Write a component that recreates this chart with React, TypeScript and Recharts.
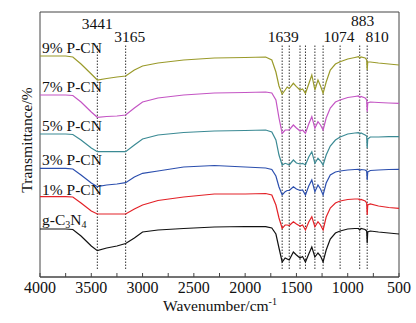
import { LineChart, Line, XAxis, YAxis, ReferenceLine, ReferenceArea } from 'recharts';

const FONT = '"Liberation Serif", "Times New Roman", serif';

// wavenumber grid (cm-1) the spectra are read at
const wavenumbers = [
  4000, 3750, 3680, 3600, 3500, 3441, 3350, 3250, 3165, 3080, 3000, 2850, 2600, 2300, 2000, 1800,
  1740, 1700, 1670, 1639, 1610, 1590, 1570, 1530, 1500, 1465, 1440, 1412, 1380, 1350, 1320, 1290,
  1265, 1240, 1210, 1170, 1120, 1074, 1000, 930, 895, 883, 870, 830, 815, 810, 805, 780, 700, 600, 500,
];

// transmittance (arbitrary units, curves stacked with offsets)
const gC3N4 = [
  48, 48, 47.5, 41, 31, 26.3, 29, 31, 33.5, 39, 45, 47, 48.5, 50, 50.5, 50.3,
  49, 43, 29, 15, 19, 18, 17, 25, 22, 19, 20.5, 15, 23, 30, 20, 24,
  21, 15, 27, 38, 44, 46, 48, 48.5, 48.5, 47, 48.5, 47.5, 46, 34, 45, 46, 45, 44, 43,
];
const pcn1 = [
  80.3, 80.3, 80, 74, 66, 63, 63, 63, 63, 68, 72, 76.5, 80, 83, 83, 83.5,
  82, 72, 59, 48.7, 52, 52, 51.5, 55.3, 53, 51, 52, 47, 55, 60.3, 50.3, 55.3,
  52, 47, 60, 69, 74, 76, 77.5, 78, 78, 77, 77.5, 76, 74, 62, 72, 73, 71, 69.5, 68.7,
];
const pcn3 = [
  108.7, 108.7, 108, 102, 94, 90.3, 92, 93, 94.3, 100, 103.7, 106, 110, 111.5, 110, 109,
  107.5, 101, 90, 82, 85.3, 86.5, 86.5, 90.3, 88, 86.5, 87, 82, 91, 97, 85.3, 92,
  88, 82, 94, 102, 105, 106, 107, 107.5, 107.7, 106.5, 107.5, 107, 106, 97, 105, 106.5, 107, 107.5, 107.7,
];
const pcn5 = [
  143, 143, 142.5, 137, 129, 125.3, 125.3, 125.5, 125.3, 132, 138, 142, 144.5, 146, 146.5, 147,
  145, 137, 122, 112, 113.7, 113, 112, 117, 114, 113, 113.7, 112, 120, 125.3, 113.7, 118.7,
  116, 112, 122, 131, 137, 140, 143, 144, 144.3, 143, 144, 142, 141, 129, 138, 140, 140, 140.3, 140.3,
];
const pcn7 = [
  182, 182, 181.5, 175, 165, 159.7, 160.5, 161, 162, 169, 175, 179, 182, 184, 184.5, 185,
  184, 177, 159, 143.5, 147, 147, 147, 152, 149, 146, 147, 143.7, 153, 160.3, 148.7, 155.3,
  152, 147, 159, 169, 175, 177, 179.5, 180.5, 181, 179.5, 180.5, 179, 177, 165.3, 174, 175, 174.5, 174, 173.7,
];
const pcn9 = [
  221, 221, 220, 213, 203, 197, 198.5, 200, 201, 207, 211, 214, 217, 219, 219.5, 220,
  217, 205, 191, 183, 187, 190, 188.5, 193.7, 190.3, 187, 188, 183.7, 193, 202, 187, 197,
  191, 183.7, 195, 207, 213, 215.3, 218, 219.5, 220.3, 219, 220, 219, 217, 207, 215, 215, 214, 213, 212,
];

const seriesKeys = ['g', 'p1', 'p3', 'p5', 'p7', 'p9'];
const seriesNames = ['g-C3N4', '1% P-CN', '3% P-CN', '5% P-CN', '7% P-CN', '9% P-CN'];
const seriesColors = ['#111111', '#e32228', '#2c4fae', '#3b8a94', '#c455c4', '#9a9a2a'];
const seriesValues = [gC3N4, pcn1, pcn3, pcn5, pcn7, pcn9];

const peakLines = [3441, 3165, 1639, 1570, 1465, 1412, 1320, 1240, 1074, 883, 810];
const peakLabels = ['3441', '3165', '1639', '', '', '', '', '', '1074', '883', '810'];

const xTicks = [4000, 3750, 3500, 3250, 3000, 2750, 2500, 2250, 2000, 1750, 1500, 1250, 1000, 750, 500];

const data = wavenumbers.map((wn, i) => {
  const row: Record<string, number> = { wn };
  seriesKeys.forEach((k, s) => (row[k] = seriesValues[s][i]));
  return row;
});

// label placement (px) relative to each peak line
const peakLabelStyle: Record<string, { dx: number; y: number }> = {
  '3441': { dx: 0, y: 28.5 },
  '3165': { dx: 4, y: 41.5 },
  '1639': { dx: 1, y: 41.5 },
  '1074': { dx: -1, y: 41.5 },
  '883': { dx: 3, y: 26 },
  '810': { dx: 10, y: 41.5 },
};

// series label baselines (px)
const seriesLabelY = [225, 195, 165, 131, 91.5, 52.5];

export default function App() {
  return (
    <div style={{ position: 'absolute', left: 0, top: 0, width: 416, height: 323, background: '#fff' }}>
      <LineChart width={416} height={323} data={data} margin={{ top: 12, right: 17, bottom: 16, left: 40 }}>
        <XAxis
          dataKey="wn"
          type="number"
          domain={[500, 4000]}
          reversed
          ticks={xTicks}
          interval={0}
          height={30}
          tickSize={-4}
          tickMargin={9}
          tickFormatter={(v: number) => (v % 500 === 0 ? String(v) : '')}
          tick={{ fill: '#111', fontSize: 16, fontFamily: FONT }}
          stroke="#444"
        />
        <YAxis hide type="number" domain={[0, 265]} />
        <ReferenceArea x1={4000} x2={500} y1={0} y2={265} fill="none" stroke="#444" strokeWidth={1} />
        {peakLines.map((wn, i) => {
          const text = peakLabels[i];
          const st = peakLabelStyle[text];
          return (
            <ReferenceLine
              key={wn}
              segment={[{ x: wn, y: 8 }, { x: wn, y: 233 }]}
              stroke="#333"
              strokeWidth={1}
              strokeDasharray="1.5 1.5"
              label={
                text
                  ? (p: any) => (
                      <text
                        x={p.viewBox.x + st.dx}
                        y={st.y}
                        textAnchor="middle"
                        fontSize={15.5}
                        fontFamily={FONT}
                        fill="#111"
                      >
                        {text}
                      </text>
                    )
                  : undefined
              }
            />
          );
        })}
        {seriesKeys.map((k, s) => (
          <Line
            key={k}
            dataKey={k}
            type="linear"
            stroke={seriesColors[s]}
            strokeWidth={1.2}
            dot={false}
            isAnimationActive={false}
          />
        ))}
      </LineChart>
      <svg width={416} height={323} style={{ position: 'absolute', left: 0, top: 0, pointerEvents: 'none' }}>
        <g fontFamily={FONT} fontSize={15.5} fill="#111">
          {seriesNames.map((name, s) =>
            name === 'g-C3N4' ? (
              <text key={name} x={42} y={seriesLabelY[s]}>
                g-C<tspan fontSize={10} dy={3}>3</tspan>
                <tspan dy={-3}>N</tspan>
                <tspan fontSize={10} dy={3}>4</tspan>
              </text>
            ) : (
              <text key={name} x={42} y={seriesLabelY[s]}>
                {name}
              </text>
            )
          )}
          <text x={0} y={0} transform="translate(32,140) rotate(-90)" textAnchor="middle">
            Transmittance/%
          </text>
          <text x={220} y={311} textAnchor="middle">
            Wavenumber/cm<tspan fontSize={10} dy={-6}>-1</tspan>
          </text>
        </g>
      </svg>
    </div>
  );
}
